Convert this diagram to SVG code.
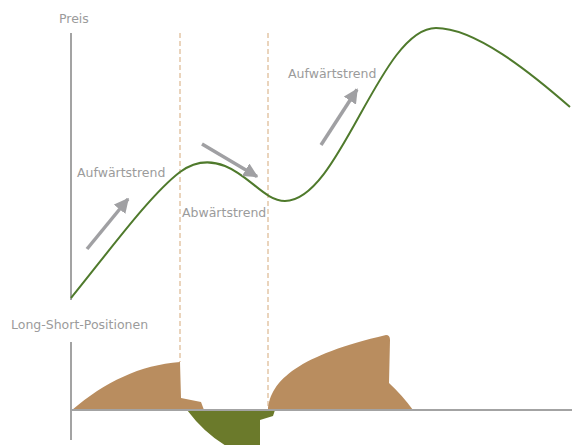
<svg xmlns="http://www.w3.org/2000/svg" width="577" height="445" viewBox="0 0 577 445">
<defs>
<style>
.lbl{font-family:"DejaVu Sans","Liberation Sans",sans-serif;font-size:12.5px;fill:#9b9b9b}
.axis{stroke:#a3a3a3;stroke-width:2;fill:none}
.dash{stroke:#e3c6a6;stroke-width:1.5;stroke-dasharray:5 3;fill:none}
.arrow{stroke:#a0a0a3;stroke-width:3.5;fill:none}
.long{fill:#b98d5f}
.short{fill:#6b7a2b}
</style>
<marker id="ah" viewBox="0 0 10 10" refX="9" refY="5" markerWidth="4.2" markerHeight="4.2" markerUnits="strokeWidth" orient="auto">
<path d="M0,0 L10,5 L0,10 Z" fill="#a0a0a3"/>
</marker>
</defs>
<rect width="577" height="445" fill="#ffffff"/>
<g id="labels">
<text class="lbl" x="59" y="22.5">Preis</text>
<text class="lbl" x="11" y="328.5">Long-Short-Positionen</text>
<text class="lbl" x="77" y="177">Aufwärtstrend</text>
<text class="lbl" x="182" y="216.5">Abwärtstrend</text>
<text class="lbl" x="288" y="77.5">Aufwärtstrend</text>
</g>
<g id="guides">
<line class="dash" x1="180" y1="33" x2="180" y2="362"/>
<line class="dash" x1="268" y1="33" x2="268" y2="408"/>
</g>
<g id="positions">
<path id="long1" class="long" d="M72,410 C105,382 140,365 180,362 L181,398 L201,402 L204,410 Z"/>
<path id="short1" class="short" d="M187,410 Q205,434 228,447 L260,447 L260,420 L273,416 L275,410 Z"/>
<path id="long2" class="long" d="M268,410 C270,380 300,355 386,335 Q390,335 390,340 L389,383 Q402,395 413,410 Z"/>
</g>
<g id="axes">
<line class="axis" x1="71" y1="33" x2="71" y2="300"/>
<line class="axis" x1="71" y1="342" x2="71" y2="440"/>
<line class="axis" x1="71" y1="410" x2="572" y2="410"/>
</g>
<g id="price">
<path d="M71,298 C110,250 150,195 180,172 C195,161 210,160 225,166 C250,176 265,201 285,201 C340,201 380,28 436,28 C475,28 530,72 570,107" fill="none" stroke="#4f7a2c" stroke-width="2"/>
</g>
<g id="connectors">
<line class="arrow" x1="87" y1="249" x2="128" y2="199" marker-end="url(#ah)"/>
<line class="arrow" x1="202" y1="144" x2="257" y2="176.5" marker-end="url(#ah)"/>
<line class="arrow" x1="321" y1="145" x2="357" y2="89.5" marker-end="url(#ah)"/>
</g>
</svg>
